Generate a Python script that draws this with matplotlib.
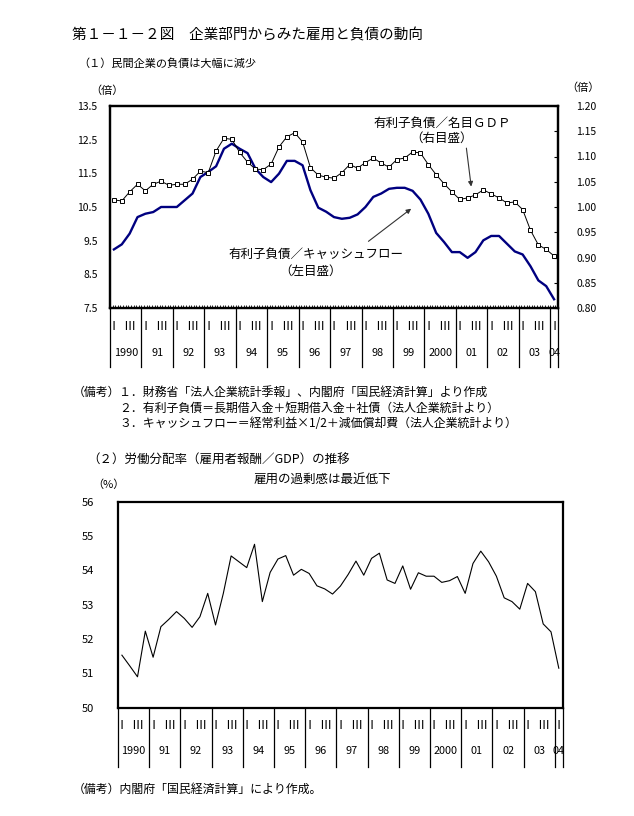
import matplotlib.pyplot as plt
import numpy as np

plt.rcParams['font.family'] = ['Noto Sans CJK JP', 'DejaVu Sans']

# quarterly data 1990Q1 - 2004Q1
years = ['1990', '91', '92', '93', '94', '95', '96', '97', '98', '99',
         '2000', '01', '02', '03', '04']

# interest-bearing debt / cash flow (left axis, times)
debt_cf = [9.24, 9.39, 9.71, 10.2, 10.30, 10.35, 10.5, 10.5, 10.5, 10.7,
           10.9, 11.39, 11.54, 11.71, 12.23, 12.38, 12.23, 12.1, 11.64, 11.39,
           11.24, 11.49, 11.87, 11.87, 11.74, 11.0, 10.48, 10.36, 10.2, 10.15,
           10.18, 10.28, 10.5, 10.8, 10.9, 11.04, 11.07, 11.07, 10.98, 10.72,
           10.3, 9.73, 9.46, 9.16, 9.16, 8.99, 9.16, 9.51, 9.64, 9.64,
           9.41, 9.18, 9.09, 8.74, 8.32, 8.15, 7.76]

# interest-bearing debt / nominal GDP (right axis, times)
debt_gdp = [1.014, 1.012, 1.030, 1.045, 1.032, 1.045, 1.051, 1.043, 1.045, 1.045,
            1.055, 1.071, 1.068, 1.111, 1.136, 1.134, 1.108, 1.089, 1.075, 1.074,
            1.085, 1.119, 1.139, 1.147, 1.129, 1.078, 1.063, 1.059, 1.057, 1.068,
            1.084, 1.077, 1.088, 1.097, 1.087, 1.079, 1.094, 1.097, 1.109, 1.107,
            1.084, 1.064, 1.046, 1.030, 1.015, 1.018, 1.024, 1.034, 1.026, 1.018,
            1.008, 1.010, 0.995, 0.954, 0.925, 0.916, 0.903]

# labour share (%)
labor_share = [51.53, 51.22, 50.90, 52.23, 51.47, 52.36, 52.57, 52.80, 52.60, 52.34,
               52.65, 53.33, 52.41, 53.33, 54.42, 54.25, 54.08, 54.76, 53.09, 53.94,
               54.33, 54.43, 53.86, 54.03, 53.91, 53.55, 53.46, 53.31, 53.54, 53.88,
               54.27, 53.86, 54.35, 54.50, 53.72, 53.62, 54.13, 53.45, 53.93, 53.83,
               53.83, 53.65, 53.70, 53.82, 53.33, 54.20, 54.56, 54.25, 53.83, 53.20,
               53.09, 52.87, 53.62, 53.38, 52.44, 52.21, 51.15]

left_ticks = [7.5, 8.5, 9.5, 10.5, 11.5, 12.5, 13.5]
right_ticks = [0.80, 0.85, 0.90, 0.95, 1.00, 1.05, 1.10, 1.15, 1.20]
labor_ticks = [50, 51, 52, 53, 54, 55, 56]

W, H = 634, 816
x = np.arange(len(debt_cf))


def fx(px):
    return px / W


def fy(py):
    return 1 - py / H


def quarter_table(ax, roman_y, year_y, line_y, fs=7.8):
    # year separators and I / III / year labels under the plot
    tr = ax.get_xaxis_transform()
    n = len(years)
    for k in range(n):
        ax.plot([4 * k - 0.5, 4 * k - 0.5], [0, line_y], color='black', lw=0.9,
                transform=tr, clip_on=False)
        ax.text(4 * k, roman_y, 'Ⅰ', transform=tr, ha='center', va='center', fontsize=8.8)
        if k < n - 1:
            ax.text(4 * k + 2, roman_y, 'Ⅲ', transform=tr, ha='center', va='center', fontsize=8.8)
            ax.text(4 * k + 1.5, year_y, years[k], transform=tr, ha='center', va='center', fontsize=fs)
        else:
            ax.text(4 * k, year_y, years[k], transform=tr, ha='center', va='center', fontsize=fs)
    ax.plot([len(x) - 0.5, len(x) - 0.5], [0, line_y], color='black', lw=0.9,
            transform=tr, clip_on=False)


fig = plt.figure(figsize=(6.34, 8.16), dpi=100)

fig.text(fx(72), fy(35), '第１－１－２図　企業部門からみた雇用と負債の動向',
         fontsize=10.5, va='center')
fig.text(fx(78), fy(64), '（１）民間企業の負債は大幅に減少', fontsize=8, va='center')

# ---- top chart ----
ax = fig.add_axes([fx(110), fy(308), fx(558) - fx(110), fy(106) - fy(308)])
ax2 = ax.twinx()
ax.plot(x, debt_cf, color='#000080', lw=1.7)
ax2.plot(x, debt_gdp, color='black', lw=0.7, marker='s', markersize=3.2,
         markerfacecolor='white', markeredgecolor='black', markeredgewidth=0.7)

ax.set_xlim(-0.5, len(x) - 0.5)
ax.set_ylim(7.5, 13.5)
ax2.set_ylim(0.80, 1.20)
ax.set_yticks(left_ticks)
ax.set_yticklabels(['%.1f' % v for v in left_ticks])
ax2.set_yticks(right_ticks)
ax2.set_yticklabels(['%.2f' % v for v in right_ticks])
ax.tick_params(axis='y', length=0, pad=9, labelsize=7.5)
ax2.tick_params(axis='y', direction='in', length=3, pad=13, labelsize=7.5)
ax.set_xticks([])
ax.set_xticks(np.arange(-0.5, len(x) - 0.4, 1 / 3), minor=True)
ax.tick_params(axis='x', which='minor', direction='in', length=2, width=0.6,
               labelbottom=False)
for a in (ax, ax2):
    for s in a.spines.values():
        s.set_linewidth(1.6)

fig.text(fx(107), fy(91), '（倍）', fontsize=8, ha='center', va='center')
fig.text(fx(583), fy(88), '（倍）', fontsize=8, ha='center', va='center')

ax2.text(41.8, 1.166, '有利子負債／名目ＧＤＰ', fontsize=9, ha='center', va='center')
ax2.text(41.7, 1.137, '（右目盛）', fontsize=9, ha='center', va='center')
ax2.annotate('', xy=(45.5, 1.035), xytext=(44.8, 1.122),
             arrowprops=dict(arrowstyle='-|>', color='#333333', lw=0.8,
                             mutation_scale=7))
ax.text(25.7, 9.09, '有利子負債／キャッシュフロー', fontsize=9, ha='center', va='center')
ax.text(25.0, 8.6, '（左目盛）', fontsize=9, ha='center', va='center')
ax.annotate('', xy=(38.1, 10.5), xytext=(32.1, 9.43),
            arrowprops=dict(arrowstyle='-|>', color='#333333', lw=0.8,
                            mutation_scale=7))

quarter_table(ax, -0.093, -0.223, -0.292)

# ---- notes ----
fig.text(fx(73), fy(392), '（備考）', fontsize=8.6, va='center')
notes = ['１．財務省「法人企業統計季報」、内閣府「国民経済計算」より作成',
         '２．有利子負債＝長期借入金＋短期借入金＋社債（法人企業統計より）',
         '３．キャッシュフロー＝経常利益×1/2＋減価償却費（法人企業統計より）']
for k, t in enumerate(notes):
    fig.text(fx(119), fy(392 + 15.8 * k), t, fontsize=8.6, va='center')

# ---- bottom chart ----
fig.text(fx(87), fy(460), '（２）労働分配率（雇用者報酬／GDP）の推移', fontsize=9, va='center')
fig.text(fx(322), fy(479), '雇用の過剰感は最近低下', fontsize=9, ha='center', va='center')
fig.text(fx(108), fy(485), '（%）', fontsize=8, ha='center', va='center')

bx = fig.add_axes([fx(118), fy(707.7), fx(562.7) - fx(118), fy(501.7) - fy(707.7)])
bx.plot(x, labor_share, color='black', lw=0.8)
bx.set_xlim(-0.5, len(x) - 0.5)
bx.set_ylim(50, 56)
bx.set_yticks(labor_ticks)
bx.tick_params(axis='y', length=0, pad=17, labelsize=8)
bx.set_xticks([])
for s in bx.spines.values():
    s.set_linewidth(1.6)

quarter_table(bx, -0.084, -0.21, -0.286)

fig.text(fx(73), fy(789), '（備考）内閣府「国民経済計算」により作成。', fontsize=8.6, va='center')

fig.savefig('out.png', dpi=100)
